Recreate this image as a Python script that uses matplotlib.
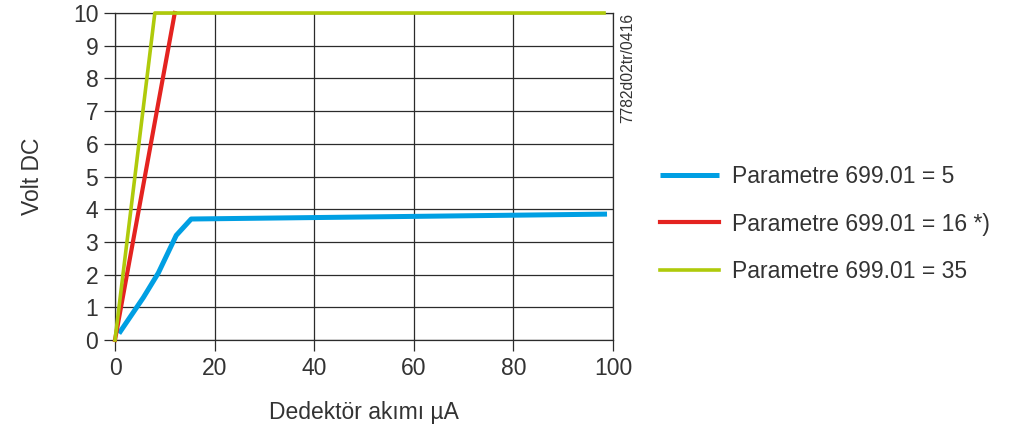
import matplotlib.pyplot as plt

plt.rcParams['font.family'] = ['Liberation Sans', 'DejaVu Sans']

# Data
x_p5 = [0.8, 5.7, 8.7, 12.3, 15.3, 98.8]
y_p5 = [0.2, 1.3, 2.05, 3.2, 3.7, 3.85]
x_p16 = [0, 12.0]
y_p16 = [0, 10]
x_p35 = [0, 8.0, 98.2]
y_p35 = [0, 10, 10]

labels = ['Parametre 699.01 = 5', 'Parametre 699.01 = 16 *)', 'Parametre 699.01 = 35']
colors = ['#009FE3', '#E42320', '#AFCA0B']
x_ticks = [0, 20, 40, 60, 80, 100]
y_ticks = list(range(0, 11))

fig = plt.figure(figsize=(10.09, 4.32), dpi=100)
ax = fig.add_axes([115 / 1009, 92 / 432, 498 / 1009, 327 / 432])

grid_col = '#2b2b2b'
txt_col = '#333333'
ax.plot(x_p5, y_p5, color=colors[0], lw=3.6, label=labels[0], clip_on=False,
        solid_joinstyle='round', solid_capstyle='butt', zorder=3)
ax.plot(x_p16, y_p16, color=colors[1], lw=3.0, label=labels[1], clip_on=False, zorder=4)
ax.plot(x_p35, y_p35, color=colors[2], lw=2.6, label=labels[2], clip_on=False, zorder=5)

ax.set_xlim(0, 100)
ax.set_ylim(0, 10)
ax.set_xticks(x_ticks)
ax.set_yticks(y_ticks)
ax.grid(True, color=grid_col, lw=0.9)
ax.set_axisbelow(True)
for s in ['left', 'bottom', 'right', 'top']:
    ax.spines[s].set_color(grid_col)
    ax.spines[s].set_linewidth(0.9)
ax.tick_params(length=8, width=0.9, color=grid_col, labelsize=16.5, labelcolor=txt_col, pad=4)

ax.set_xlabel('Dedektör akımı µA', fontsize=16.5, color=txt_col, labelpad=15)
ax.set_ylabel('Volt DC', fontsize=16.5, color=txt_col, labelpad=21)

fig.text(628 / 1009, 1 - 68 / 432, '7782d02tr/0416', rotation=90, fontsize=11.3,
         color=txt_col, ha='center', va='center')

ax.legend(loc='center left', bbox_to_anchor=(639 / 1009, 1 - 224 / 432),
          bbox_transform=fig.transFigure, frameon=False, fontsize=16.5,
          handlelength=2.6, handletextpad=0.55, labelspacing=1.05, labelcolor=txt_col)

fig.savefig('out.png', dpi=100)
